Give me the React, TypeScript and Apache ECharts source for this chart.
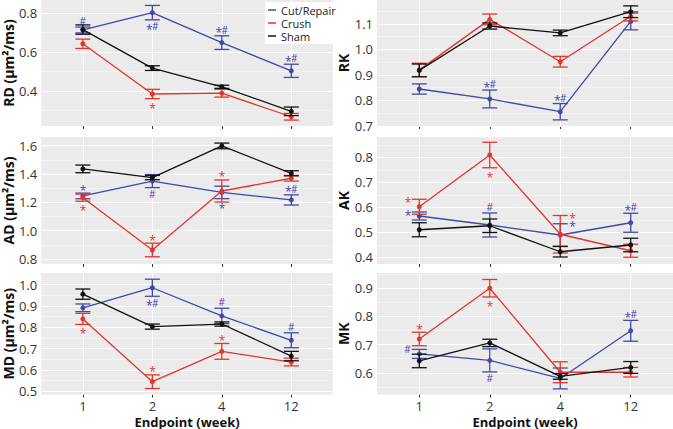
import React, { useEffect, useRef } from 'react';
import * as echarts from 'echarts';

// ---------- categories ----------
const weekLabels = ['1', '2', '4', '12'];
const groupNames = ['Cut/Repair', 'Crush', 'Sham'];
const groupColors = ['#4048a8', '#e2352b', '#111111'];

// ---------- RD ----------
const rdCut = [0.714, 0.803, 0.649, 0.504];
const rdCutSE = [0.015, 0.037, 0.035, 0.034];
const rdCutSig = ['#:a', '*#:b', '*#:a', '*#:a'];
const rdCrush = [0.643, 0.385, 0.389, 0.268];
const rdCrushSE = [0.024, 0.024, 0.02, 0.017];
const rdCrushSig = ['', '*:b', '', ''];
const rdSham = [0.716, 0.518, 0.422, 0.296];
const rdShamSE = [0.024, 0.012, 0.008, 0.022];
const rdTicks = [0.4, 0.6, 0.8];
const rdMinor = [0.3, 0.5, 0.7];

// ---------- RK ----------
const rkCut = [0.845, 0.806, 0.756, 1.11];
const rkCutSE = [0.02, 0.035, 0.032, 0.033];
const rkCutSig = ['', '*#:a', '*#:a', ''];
const rkCrush = [0.92, 1.118, 0.952, 1.13];
const rkCrushSE = [0.026, 0.021, 0.021, 0.018];
const rkCrushSig = ['', '', '', ''];
const rkSham = [0.918, 1.092, 1.065, 1.148];
const rkShamSE = [0.025, 0.012, 0.011, 0.023];
const rkTicks = [0.7, 0.8, 0.9, 1.0, 1.1];
const rkMinor = [0.75, 0.85, 0.95, 1.05, 1.15];

// ---------- AD ----------
const adCut = [1.245, 1.35, 1.27, 1.217];
const adCutSE = [0.02, 0.046, 0.044, 0.036];
const adCutSig = ['*:a', '#:b', '*:b', '*#:a'];
const adCrush = [1.233, 0.864, 1.28, 1.37];
const adCrushSE = [0.025, 0.048, 0.078, 0.02];
const adCrushSig = ['*:b', '*:a', '*:a', ''];
const adSham = [1.436, 1.375, 1.598, 1.405];
const adShamSE = [0.027, 0.015, 0.02, 0.018];
const adTicks = [0.8, 1.0, 1.2, 1.4, 1.6];
const adMinor = [0.9, 1.1, 1.3, 1.5];

// ---------- AK ----------
const akCut = [0.565, 0.529, 0.489, 0.538];
const akCutSE = [0.016, 0.048, 0.045, 0.038];
const akCutSig = ['*:lt', '#:a', '*:rt', '*#:a'];
const akCrush = [0.602, 0.809, 0.492, 0.426];
const akCrushSE = [0.03, 0.051, 0.075, 0.026];
const akCrushSig = ['*:lt', '*:b', '*:rt', ''];
const akSham = [0.51, 0.526, 0.422, 0.449];
const akShamSE = [0.028, 0.027, 0.021, 0.027];
const akTicks = [0.4, 0.5, 0.6, 0.7, 0.8];
const akMinor = [0.45, 0.55, 0.65, 0.75, 0.85];

// ---------- MD ----------
const mdCut = [0.891, 0.985, 0.853, 0.739];
const mdCutSE = [0.018, 0.04, 0.036, 0.035];
const mdCutSig = ['', '*#:b', '#:a', '#:a'];
const mdCrush = [0.839, 0.545, 0.687, 0.637];
const mdCrushSE = [0.026, 0.032, 0.037, 0.018];
const mdCrushSig = ['*:b', '*:a', '*:a', ''];
const mdSham = [0.955, 0.803, 0.815, 0.665];
const mdShamSE = [0.024, 0.012, 0.01, 0.022];
const mdTicks = [0.5, 0.6, 0.7, 0.8, 0.9, 1.0];
const mdMinor = [0.55, 0.65, 0.75, 0.85, 0.95];

// ---------- MK ----------
const mkCut = [0.667, 0.644, 0.58, 0.749];
const mkCutSE = [0.016, 0.041, 0.037, 0.037];
const mkCutSig = ['#:lt', '#:b', '', '*#:a'];
const mkCrush = [0.72, 0.9, 0.602, 0.602];
const mkCrushSE = [0.024, 0.031, 0.037, 0.017];
const mkCrushSig = ['*:a', '*:b', '', ''];
const mkSham = [0.642, 0.706, 0.587, 0.619];
const mkShamSE = [0.024, 0.013, 0.01, 0.021];
const mkTicks = [0.6, 0.7, 0.8, 0.9];
const mkMinor = [0.55, 0.65, 0.75, 0.85, 0.95];

const noSig = ['', '', '', ''];

type Panel = {
  title: string;
  min: number;
  max: number;
  ticks: number[];
  minor: number[];
  groups: [number[], number[], string[]][];
  left: number;
  top: number;
  bottomRow: boolean;
  nameGap: number;
};

const FONT = 'Open Sans';
const LEFT_X = 37;
const RIGHT_X = 377;
const PANEL_W = 296;
const PANEL_H = 127;

const panels: Panel[] = [
  { title: 'RD (μm²/ms)', min: 0.2205, max: 0.868, ticks: rdTicks, minor: rdMinor,
    groups: [[rdCut, rdCutSE, rdCutSig], [rdCrush, rdCrushSE, rdCrushSig], [rdSham, rdShamSE, noSig]],
    left: LEFT_X, top: -1, bottomRow: false, nameGap: 20 },
  { title: 'RK', min: 0.7, max: 1.194, ticks: rkTicks, minor: rkMinor,
    groups: [[rkCut, rkCutSE, rkCutSig], [rkCrush, rkCrushSE, rkCrushSig], [rkSham, rkShamSE, noSig]],
    left: RIGHT_X, top: -1, bottomRow: false, nameGap: 26 },
  { title: 'AD (μm²/ms)', min: 0.765, max: 1.661, ticks: adTicks, minor: adMinor,
    groups: [[adCut, adCutSE, adCutSig], [adCrush, adCrushSE, adCrushSig], [adSham, adShamSE, noSig]],
    left: LEFT_X, top: 137, bottomRow: false, nameGap: 20 },
  { title: 'AK', min: 0.373, max: 0.881, ticks: akTicks, minor: akMinor,
    groups: [[akCut, akCutSE, akCutSig], [akCrush, akCrushSE, akCrushSig], [akSham, akShamSE, noSig]],
    left: RIGHT_X, top: 137, bottomRow: false, nameGap: 26 },
  { title: 'MD (μm²/ms)', min: 0.485, max: 1.054, ticks: mdTicks, minor: mdMinor,
    groups: [[mdCut, mdCutSE, mdCutSig], [mdCrush, mdCrushSE, mdCrushSig], [mdSham, mdShamSE, noSig]],
    left: LEFT_X, top: 273, bottomRow: true, nameGap: 20 },
  { title: 'MK', min: 0.523, max: 0.954, ticks: mkTicks, minor: mkMinor,
    groups: [[mkCut, mkCutSE, mkCutSig], [mkCrush, mkCrushSE, mkCrushSig], [mkSham, mkShamSE, noSig]],
    left: RIGHT_X, top: 273, bottomRow: true, nameGap: 26 },
];

const xPositions = weekLabels.map((_, i) => i);

// widths of annotation glyphs (px) used for placing them side by side
const CHAR_W: Record<string, number> = { '*': 6, '#': 6.5 };

function buildOption() {
  const grid: any[] = [];
  const xAxis: any[] = [];
  const yAxis: any[] = [];
  const series: any[] = [];

  panels.forEach((p, pi) => {
    grid.push({
      left: p.left, top: p.top, width: PANEL_W, height: PANEL_H,
      show: true, backgroundColor: '#ebebeb', borderWidth: 0, containLabel: false,
    });
    xAxis.push({
      type: 'value', gridIndex: pi, min: -0.6, max: 3.6,
      axisLine: { show: false },
      splitLine: { show: false },
      axisTick: { show: true, length: 3, customValues: xPositions, lineStyle: { color: '#333', width: 1 } },
      axisLabel: {
        show: p.bottomRow, customValues: xPositions, margin: 5,
        formatter: (v: number) => weekLabels[Math.round(v)] ?? '',
        fontSize: 13, color: '#333', fontFamily: FONT, lineHeight: 12,
      },
      name: p.bottomRow ? 'Endpoint (week)' : '',
      nameLocation: 'middle', nameGap: 21,
      nameTextStyle: { fontSize: 13, fontWeight: 'bold', color: '#111', fontFamily: FONT, lineHeight: 12 },
    });
    yAxis.push({
      type: 'value', gridIndex: pi, min: p.min, max: p.max,
      axisLine: { show: false },
      splitLine: { show: false },
      axisTick: { show: true, length: 3, customValues: p.ticks, lineStyle: { color: '#333', width: 1 } },
      axisLabel: {
        customValues: p.ticks, margin: 4,
        formatter: (v: number) => v.toFixed(1),
        fontSize: 13, color: '#333', fontFamily: FONT,
      },
      name: p.title, nameLocation: 'middle', nameGap: p.nameGap,
      nameTextStyle: { fontSize: 14, fontWeight: 'bold', color: '#111', fontFamily: FONT },
    });

    // background grid lines (white), placed through the axes' own scales
    const gridLines: any[] = [];
    p.minor.forEach((v) => gridLines.push({ yAxis: v, lineStyle: { color: '#f6f6f6', width: 0.6, type: 'solid' } }));
    p.ticks.forEach((v) => gridLines.push({ yAxis: v, lineStyle: { color: '#ffffff', width: 1.1, type: 'solid' } }));
    xPositions.forEach((v) => gridLines.push({ xAxis: v, lineStyle: { color: '#ffffff', width: 1.1, type: 'solid' } }));
    series.push({
      type: 'line', name: 'grid-' + pi, xAxisIndex: pi, yAxisIndex: pi,
      data: [[0, (p.min + p.max) / 2]], showSymbol: false, symbol: 'none',
      lineStyle: { opacity: 0 }, silent: true, z: 1,
      markLine: {
        z: 1, silent: true, symbol: ['none', 'none'], label: { show: false },
        emphasis: { disabled: true }, data: gridLines,
      },
    });

    p.groups.forEach(([mean, se, sig], gi) => {
      const color = groupColors[gi];
      series.push({
        type: 'line', name: groupNames[gi], xAxisIndex: pi, yAxisIndex: pi,
        data: mean.map((v, i) => [xPositions[i], v]),
        symbol: 'circle', symbolSize: 5, showSymbol: true,
        itemStyle: { color }, lineStyle: { color, width: 1.3 },
        z: 10 + gi, silent: true,
      });
      series.push({
        type: 'custom', name: groupNames[gi] + '-err', xAxisIndex: pi, yAxisIndex: pi,
        data: mean.map((v, i) => [xPositions[i], v, se[i]]),
        z: 10 + gi, silent: true,
        renderItem: (params: any, api: any) => {
          const x = api.value(0);
          const y = api.value(1);
          const e = api.value(2);
          const top = api.coord([x, y + e]);
          const bot = api.coord([x, y - e]);
          const hw = 7.5;
          const ls = { stroke: color, lineWidth: 1.3 };
          const children: any[] = [
            { type: 'line', shape: { x1: top[0], y1: top[1], x2: bot[0], y2: bot[1] }, style: ls },
            { type: 'line', shape: { x1: top[0] - hw, y1: top[1], x2: top[0] + hw, y2: top[1] }, style: ls },
            { type: 'line', shape: { x1: bot[0] - hw, y1: bot[1], x2: bot[0] + hw, y2: bot[1] }, style: ls },
          ];
          const s = sig[params.dataIndex];
          if (s) {
            const [txt, pos] = s.split(':');
            const chars = txt.split('');
            const totalW = chars.reduce((acc, c) => acc + (CHAR_W[c] || 6), 0);
            let startX = top[0] - totalW / 2;
            let cy = top[1];
            if (pos === 'a') { cy = top[1] - 6; }
            else if (pos === 'b') { cy = bot[1] + 6.5; }
            else if (pos === 'lt') { startX = top[0] - hw - 1 - totalW; cy = top[1]; }
            else if (pos === 'rt') { startX = top[0] + hw + 1.5; cy = top[1]; }
            let cx = startX;
            chars.forEach((c) => {
              const isStar = c === '*';
              children.push({
                type: 'text', x: cx, y: cy + (isStar ? 3 : 0),
                style: {
                  text: c, fill: color, fontFamily: FONT,
                  fontSize: isStar ? 12 : 10, lineHeight: 8,
                  align: 'left', verticalAlign: 'middle',
                },
              });
              cx += CHAR_W[c] || 6;
            });
          }
          return { type: 'group', children };
        },
      });
    });
  });

  return {
    animation: false,
    backgroundColor: '#ffffff',
    grid, xAxis, yAxis, series,
    legend: {
      data: groupNames.map((n) => ({ name: n, icon: 'rect' })),
      orient: 'vertical', left: 265, top: 2,
      itemWidth: 8, itemHeight: 1.5, itemGap: 1,
      backgroundColor: '#ffffff', padding: [2, 4, 2, 3],
      selectedMode: false,
      textStyle: { fontSize: 11, color: '#222', fontFamily: FONT, lineHeight: 12 },
    },
  };
}

export default function App() {
  const ref = useRef<HTMLDivElement>(null);
  useEffect(() => {
    if (!ref.current) return;
    const chart = echarts.init(ref.current, undefined, { renderer: 'svg' });
    chart.setOption(buildOption() as any);
    return () => chart.dispose();
  }, []);
  return <div ref={ref} style={{ width: 673, height: 429, position: 'absolute', left: 0, top: 0 }} />;
}
